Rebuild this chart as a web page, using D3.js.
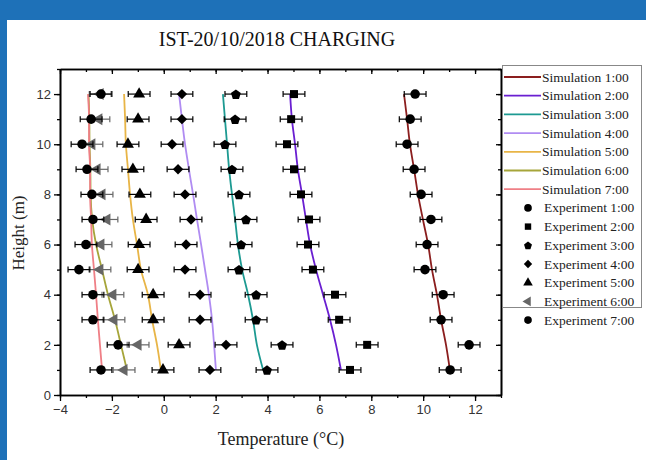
<!DOCTYPE html>
<html>
<head>
<meta charset="utf-8">
<script src="https://cdn.jsdelivr.net/npm/d3@7"></script>
<style>
  body { margin: 0; background: #fff; }
  svg { display: block; }
</style>
</head>
<body>
<svg id="chart" width="646" height="460"></svg>
<script>
// heights (m) for every point of every series
var heights = [1, 2, 3, 4, 5, 6, 7, 8, 9, 10, 11, 12];

// simulated temperatures (deg C) at each height
var sim1 = [11.03, 10.88, 10.69, 10.53, 10.34, 10.19, 9.99, 9.80, 9.65, 9.49, 9.38, 9.26];
var sim2 = [6.83, 6.64, 6.41, 6.14, 5.87, 5.64, 5.48, 5.33, 5.17, 5.06, 4.94, 4.87];
var sim3 = [3.83, 3.59, 3.44, 3.25, 3.02, 2.86, 2.75, 2.63, 2.52, 2.44, 2.36, 2.28];
var sim4 = [2.01, 1.94, 1.86, 1.74, 1.59, 1.44, 1.28, 1.13, 0.97, 0.82, 0.70, 0.59];
var sim5 = [-0.11, -0.26, -0.45, -0.61, -0.88, -1.03, -1.19, -1.30, -1.38, -1.46, -1.49, -1.53];
var sim6 = [-1.42, -1.65, -1.88, -2.15, -2.38, -2.61, -2.76, -2.82, -2.83, -2.86, -2.87, -2.90];
var sim7 = [-2.38, -2.46, -2.54, -2.61, -2.69, -2.77, -2.80, -2.84, -2.84, -2.88, -2.88, -2.92];

// measured temperatures (deg C) at each height
var exp1 = [11.04, 11.77, 10.69, 10.77, 10.07, 10.15, 10.30, 9.92, 9.65, 9.38, 9.50, 9.69];
var exp2 = [7.18, 7.84, 6.76, 6.60, 5.75, 5.56, 5.60, 5.29, 5.02, 4.75, 4.91, 5.02];
var exp3 = [3.98, 4.56, 3.56, 3.56, 2.90, 2.98, 3.17, 2.90, 2.63, 2.36, 2.75, 2.78];
var exp4 = [1.78, 2.40, 1.40, 1.40, 0.82, 0.86, 1.05, 0.82, 0.55, 0.32, 0.70, 0.70];
var exp5 = [-0.03, 0.59, -0.41, -0.41, -0.99, -0.95, -0.68, -0.92, -1.19, -1.38, -0.99, -0.95];
var exp6 = [-1.53, -0.99, -1.92, -1.96, -2.46, -2.42, -2.19, -2.38, -2.57, -2.77, -2.50, -2.45];
var exp7 = [-2.42, -1.76, -2.73, -2.73, -3.27, -3.00, -2.73, -2.77, -2.96, -3.15, -2.80, -2.42];
var errX = 0.42;

var simNames = ["Simulation 1:00", "Simulation 2:00", "Simulation 3:00", "Simulation 4:00",
                "Simulation 5:00", "Simulation 6:00", "Simulation 7:00"];
var expNames = ["Experiment 1:00", "Experiment 2:00", "Experiment 3:00", "Experiment 4:00",
                "Experiment 5:00", "Experiment 6:00", "Experiment 7:00"];

var xTicks = [-4, -2, 0, 2, 4, 6, 8, 10, 12];
var yTicks = [0, 2, 4, 6, 8, 10, 12];

var simColors = ["#8b1e1e", "#6a1fd1", "#1d9a92", "#b08cf2", "#e8b547", "#a6a53a", "#ef7f86"];
var expShapes = ["circle", "square", "pentagon", "diamond", "triangle", "left", "circle"];
var expColors = ["#000", "#000", "#000", "#000", "#000", "#666", "#000"];

var sims = [sim1, sim2, sim3, sim4, sim5, sim6, sim7];
var exps = [exp1, exp2, exp3, exp4, exp5, exp6, exp7];

var svg = d3.select("#chart");

// page frame
svg.append("rect").attr("x", 0).attr("y", 0).attr("width", 646).attr("height", 20).attr("fill", "#1e71b8");
svg.append("rect").attr("x", 0).attr("y", 0).attr("width", 7).attr("height", 460).attr("fill", "#1e71b8");

var x = d3.scaleLinear().domain([-4, 13]).range([60, 501]);
var y = d3.scaleLinear().domain([0, 13]).range([395, 69]);

var minorX = d3.range(-4, 14);
var minorY = d3.range(0, 14);

// title
svg.append("text")
  .attr("x", 277).attr("y", 46)
  .attr("text-anchor", "middle")
  .attr("font-family", "Liberation Serif")
  .attr("font-size", 20)
  .attr("fill", "#111")
  .text("IST-20/10/2018 CHARGING");

function styleAxis(g) {
  g.selectAll(".domain").attr("stroke", "#000").attr("stroke-width", 1.6);
  g.selectAll(".tick line").attr("stroke", "#000").attr("stroke-width", 1.3);
  g.selectAll(".tick text").attr("font-family", "Liberation Sans").attr("font-size", 13).attr("fill", "#333");
}

// bottom axis
svg.append("g").attr("transform", "translate(0,395)")
  .call(d3.axisBottom(x).tickValues(minorX).tickSize(3).tickFormat("").tickSizeOuter(0))
  .call(styleAxis);
svg.append("g").attr("transform", "translate(0,395)")
  .call(d3.axisBottom(x).tickValues(xTicks).tickSize(6).tickSizeOuter(0).tickPadding(4))
  .call(styleAxis);
// top axis
svg.append("g").attr("transform", "translate(0,69)")
  .call(d3.axisTop(x).tickValues(minorX).tickSize(-3).tickFormat("").tickSizeOuter(0))
  .call(styleAxis);
svg.append("g").attr("transform", "translate(0,69)")
  .call(d3.axisTop(x).tickValues(xTicks).tickSize(-5).tickFormat("").tickSizeOuter(0))
  .call(styleAxis);
// left axis
svg.append("g").attr("transform", "translate(60,0)")
  .call(d3.axisLeft(y).tickValues(minorY).tickSize(3).tickFormat("").tickSizeOuter(0))
  .call(styleAxis);
svg.append("g").attr("transform", "translate(60,0)")
  .call(d3.axisLeft(y).tickValues(yTicks).tickSize(6).tickSizeOuter(0).tickPadding(3))
  .call(styleAxis);
// right axis
svg.append("g").attr("transform", "translate(501,0)")
  .call(d3.axisRight(y).tickValues(minorY).tickSize(-3).tickFormat("").tickSizeOuter(0))
  .call(styleAxis);
svg.append("g").attr("transform", "translate(501,0)")
  .call(d3.axisRight(y).tickValues(yTicks).tickSize(-5).tickFormat("").tickSizeOuter(0))
  .call(styleAxis);

// axis titles
svg.append("text")
  .attr("x", 281).attr("y", 445)
  .attr("text-anchor", "middle")
  .attr("font-family", "Liberation Serif")
  .attr("font-size", 18)
  .attr("fill", "#222")
  .text("Temperature (°C)");
svg.append("text")
  .attr("transform", "translate(24,233) rotate(-90)")
  .attr("text-anchor", "middle")
  .attr("font-family", "Liberation Serif")
  .attr("font-size", 17)
  .attr("fill", "#222")
  .text("Height (m)");

// simulation curves
var line = d3.line()
  .x(function (d) { return x(d[0]); })
  .y(function (d) { return y(d[1]); })
  .curve(d3.curveMonotoneY);

sims.forEach(function (s, i) {
  svg.append("path")
    .datum(d3.zip(s, heights))
    .attr("d", line)
    .attr("fill", "none")
    .attr("stroke", simColors[i])
    .attr("stroke-width", 1.8);
});

function markerPath(shape, k) {
  if (shape == "pentagon") {
    var r = 5.2 * k, pts = [];
    for (var j = 0; j < 5; j++) {
      var a = -Math.PI / 2 + j * 2 * Math.PI / 5;
      pts.push([r * Math.cos(a), r * Math.sin(a) + 0.6 * k]);
    }
    return "M" + pts.join("L") + "Z";
  }
  if (shape == "diamond") {
    var h = 5.2 * k;
    return "M0," + (-h) + "L" + h + ",0L0," + h + "L" + (-h) + ",0Z";
  }
  var types = { circle: d3.symbolCircle, square: d3.symbolSquare,
                triangle: d3.symbolTriangle, left: d3.symbolTriangle };
  var sizes = { circle: 72, square: 64, triangle: 62, left: 62 };
  return d3.symbol().type(types[shape]).size(sizes[shape] * k * k)();
}

function drawMarker(g, shape, color, k) {
  g.append("path")
    .attr("d", markerPath(shape, k))
    .attr("fill", color)
    .attr("transform", shape == "left" ? "rotate(-90)" : null);
}

// experiment points with error bars
exps.forEach(function (e, i) {
  var g = svg.append("g");
  var pts = d3.zip(e, heights);
  var bars = g.selectAll(".bar").data(pts).enter().append("g")
    .attr("stroke", expColors[i]).attr("stroke-width", 1.2);
  bars.append("line")
    .attr("x1", function (d) { return x(d[0] - errX); })
    .attr("x2", function (d) { return x(d[0] + errX); })
    .attr("y1", function (d) { return y(d[1]); })
    .attr("y2", function (d) { return y(d[1]); });
  bars.append("line")
    .attr("x1", function (d) { return x(d[0] - errX); })
    .attr("x2", function (d) { return x(d[0] - errX); })
    .attr("y1", function (d) { return y(d[1]) - 3; })
    .attr("y2", function (d) { return y(d[1]) + 3; });
  bars.append("line")
    .attr("x1", function (d) { return x(d[0] + errX); })
    .attr("x2", function (d) { return x(d[0] + errX); })
    .attr("y1", function (d) { return y(d[1]) - 3; })
    .attr("y2", function (d) { return y(d[1]) + 3; });
  pts.forEach(function (d) {
    var m = g.append("g").attr("transform", "translate(" + x(d[0]) + "," + y(d[1]) + ")");
    drawMarker(m, expShapes[i], expColors[i], 1);
  });
});

// legend
var leg = svg.append("g");
leg.append("rect")
  .attr("x", 502.5).attr("y", 65.5).attr("width", 139).attr("height", 242)
  .attr("fill", "#fff").attr("stroke", "#888").attr("stroke-width", 1);

var rowY = function (k) { return 77 + k * 18.7; };
simNames.forEach(function (n, i) {
  leg.append("line")
    .attr("x1", 504).attr("x2", 541)
    .attr("y1", rowY(i)).attr("y2", rowY(i))
    .attr("stroke", simColors[i]).attr("stroke-width", 1.8);
  leg.append("text")
    .attr("x", 542).attr("y", rowY(i) + 4.5)
    .attr("font-family", "Liberation Serif").attr("font-size", 13.5).attr("fill", "#222")
    .text(n);
});
expNames.forEach(function (n, i) {
  var k = i + 7;
  var m = leg.append("g").attr("transform", "translate(528," + rowY(k) + ")");
  drawMarker(m, expShapes[i], expColors[i], 0.8);
  leg.append("text")
    .attr("x", 544).attr("y", rowY(k) + 4.5)
    .attr("font-family", "Liberation Serif").attr("font-size", 13.5).attr("fill", "#222")
    .text(n);
});
</script>
</body>
</html>
